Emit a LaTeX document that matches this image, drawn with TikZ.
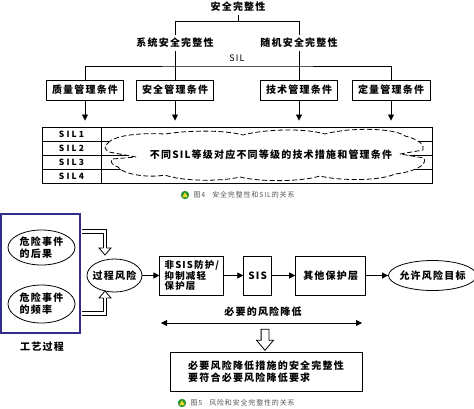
\documentclass[tikz,border=0pt]{standalone}
\usepackage{fontspec}
\setmainfont{Noto Sans CJK SC}[LetterSpace=12]
\newfontfamily\silfont{Noto Sans CJK SC}[LetterSpace=25]
\usetikzlibrary{arrows.meta,positioning,shapes.geometric,shapes.arrows}
\definecolor{procblue}{RGB}{50,46,138}
\definecolor{capgray}{RGB}{85,85,85}
\definecolor{icongreen}{RGB}{40,150,50}
\definecolor{iconyellow}{RGB}{250,215,40}

\begin{document}
\begin{tikzpicture}[
  x=1pt, y=-1pt,
  node distance=19pt,
  every node/.style={font=\bfseries},
  condbox/.style={rectangle, draw, line width=0.9pt, minimum width=77pt, minimum height=20pt, inner sep=0pt},
  layerbox/.style={rectangle, draw, line width=0.9pt, minimum height=39pt, inner xsep=1.5pt, inner ysep=1pt},
  riskell/.style={ellipse, draw, line width=0.8pt, inner sep=0pt},
  sillabel/.style={font=\silfont\bfseries\fontsize{8.5}{10}\selectfont},
  caption/.style={font=\fontsize{7}{8}\selectfont, text=capgray, anchor=west},
  rel/.style={-{Triangle[length=6pt,width=6pt]}, line width=0.8pt},
  tree/.style={line width=0.8pt},
  hollow/.style={double, double distance=2.6pt, line width=0.8pt},
  cloudline/.style={draw, fill=white, line width=0.8pt, dash pattern=on 5pt off 2.5pt, line join=round}
]
\useasboundingbox (0,0) rectangle (474,408);

% safety integrity and SIL
\node (si) at (238,7) {安全完整性};
\node (sys) at (175,43) {系统安全完整性};
\node (rnd) at (299,43) {随机安全完整性};
\node[font=\fontsize{9}{10}\selectfont] (sil) at (237,58) {SIL};

\node[condbox] (qm) at (85,90) {质量管理条件};
\node[condbox] (sm) at (175,90) {安全管理条件};
\node[condbox] (tm) at (299,90) {技术管理条件};
\node[condbox, minimum width=78pt] (dm) at (391,90) {定量管理条件};

\coordinate (tl) at (175,21);
\coordinate (tr) at (299,21);
\coordinate (silline) at (237,66);
\draw[tree] (si.south) -- (si.south |- tl);
\draw[tree] (sys.north) -- (tl) -- (tr) -- (rnd.north);
\draw[tree] (sys.south) -- (sm.north);
\draw[tree] (rnd.south) -- (tm.north);
\draw[tree] (qm.north) |- (silline) -| (dm.north);

% SIL table
\node[draw, line width=0.9pt, minimum width=390pt, minimum height=56pt, inner sep=0pt] (tab) at (237,155) {};
\draw[tree] (101,127) -- (101,183);
\draw[tree] (42,141.3) -- (432,141.3);
\draw[tree] (42,155.5) -- (432,155.5);
\draw[tree] (42,169.3) -- (432,169.3);
\node[sillabel] (s1) at (71.5,134.3) {SIL1};
\node[sillabel] (s2) at (71.5,148.4) {SIL2};
\node[sillabel] (s3) at (71.5,162.4) {SIL3};
\node[sillabel] (s4) at (71.5,176.2) {SIL4};
% dashed cloud
\path[cloudline] (108,143) .. controls (116,134) and (145,133) .. (165,134)
  .. controls (190,130) and (225,130) .. (243,135)
  .. controls (265,129) and (305,128) .. (325,134)
  .. controls (350,127) and (395,128) .. (405,136)
  .. controls (418,139) and (425,145) .. (423,150)
  -- (400,154) -- (424,158)
  .. controls (428,166) and (412,172) .. (395,174)
  .. controls (380,181) and (340,181) .. (320,176)
  .. controls (300,182) and (260,182) .. (240,177)
  .. controls (220,182) and (180,181) .. (165,175)
  .. controls (150,178) and (124,175) .. (118,167)
  .. controls (112,165) and (110,162) .. (112,159)
  -- (136,157) -- (109,152)
  .. controls (104,149) and (104,146) .. cycle;
\node (clt) at (271,155) {不同SIL等级对应不同等级的技术措施和管理条件};

\draw[rel] (qm.south) -- ([yshift=6pt]qm.south |- tab.north);
\draw[rel] (sm.south) -- ([yshift=6pt]sm.south |- tab.north);
\draw[rel] (tm.south) -- ([yshift=6pt]tm.south |- tab.north);
\draw[rel] (dm.south) -- ([yshift=6pt]dm.south |- tab.north);

\fill[icongreen] (185,195) circle (4.2pt);
\fill[iconyellow] (182.2,197.2) -- (185,192.4) -- (187.8,197.2) -- cycle;
\node[caption] (cap4) at (190,195) {图4\quad 安全完整性和SIL的关系};

% risk and safety integrity
\node[draw=procblue, line width=2.4pt, minimum width=79pt, minimum height=119pt, inner sep=0pt] (proc) at (40.5,273.5) {};
\node[riskell, minimum width=67pt, minimum height=35pt, label={[align=left]center:危险事件\\的后果}] (cons) at (41.5,247.5) {};
\node[riskell, minimum width=67pt, minimum height=38pt, label={[align=left]center:危险事件\\的频率}] (freq) at (41.5,304) {};
\node (craft) at (42,347) {工艺过程};

\node[riskell, minimum width=55pt, minimum height=33pt, label=center:过程风险] (risk) at (114.5,275.5) {};
\node[layerbox, right=17pt of risk, align=left, minimum width=64pt, font=\bfseries\fontsize{9.5}{10.8}\selectfont] (nonsis) {非SIS防护/\\抑制减轻\\保护层};
\node[layerbox, right=19pt of nonsis, minimum width=28pt] (sis) {SIS};
\node[layerbox, right=23pt of sis, minimum width=70pt] (other) {其他保护层};
\node[riskell, right=22pt of other, minimum width=88pt, minimum height=30pt, label=center:允许风险目标] (target) {};

\draw[rel] (risk) -- (nonsis);
\draw[rel] (nonsis) -- (sis);
\draw[rel] (sis) -- (other);
\draw[rel] (other) -- (target);

\coordinate (ha) at (105,231.5);
\coordinate (hb) at (105,248);
\coordinate (hc) at (105,313.5);
\coordinate (hd) at (105,298);
\draw[hollow, shorten <=1.2pt] (proc.east |- ha) -- (ha) -- (hb);
\draw[tree] (103.3,248) -- (99,248) -- (105,255) -- (111,248) -- (106.7,248);
\draw[hollow, shorten <=1.2pt] (proc.east |- hc) -- (hc) -- (hd);
\draw[tree] (103.3,298) -- (99,298) -- (105,291) -- (111,298) -- (106.7,298);

\node (need) at (263,312) {必要的风险降低};
\coordinate (nl) at (161,323);
\coordinate (nr) at (362,323);
\draw[{Triangle[length=6pt,width=6pt]}-{Triangle[length=6pt,width=6pt]}, line width=0.8pt] (nl) -- (nr);
\node[single arrow, draw, line width=0.8pt, shape border rotate=270, inner sep=3.5pt,
  single arrow head extend=4.5pt, single arrow tip angle=80, minimum height=21pt] (down) at (265,337.5) {};
\node[layerbox, minimum width=192pt, align=left] (req) at (266,371.5) {必要风险降低措施的安全完整性\\要符合必要风险降低要求};

\fill[icongreen] (182,403) circle (4.2pt);
\fill[iconyellow] (179.2,405.2) -- (182,400.4) -- (184.8,405.2) -- cycle;
\node[caption] (cap5) at (187,403) {图5\quad 风险和安全完整性的关系};
\end{tikzpicture}
\end{document}
